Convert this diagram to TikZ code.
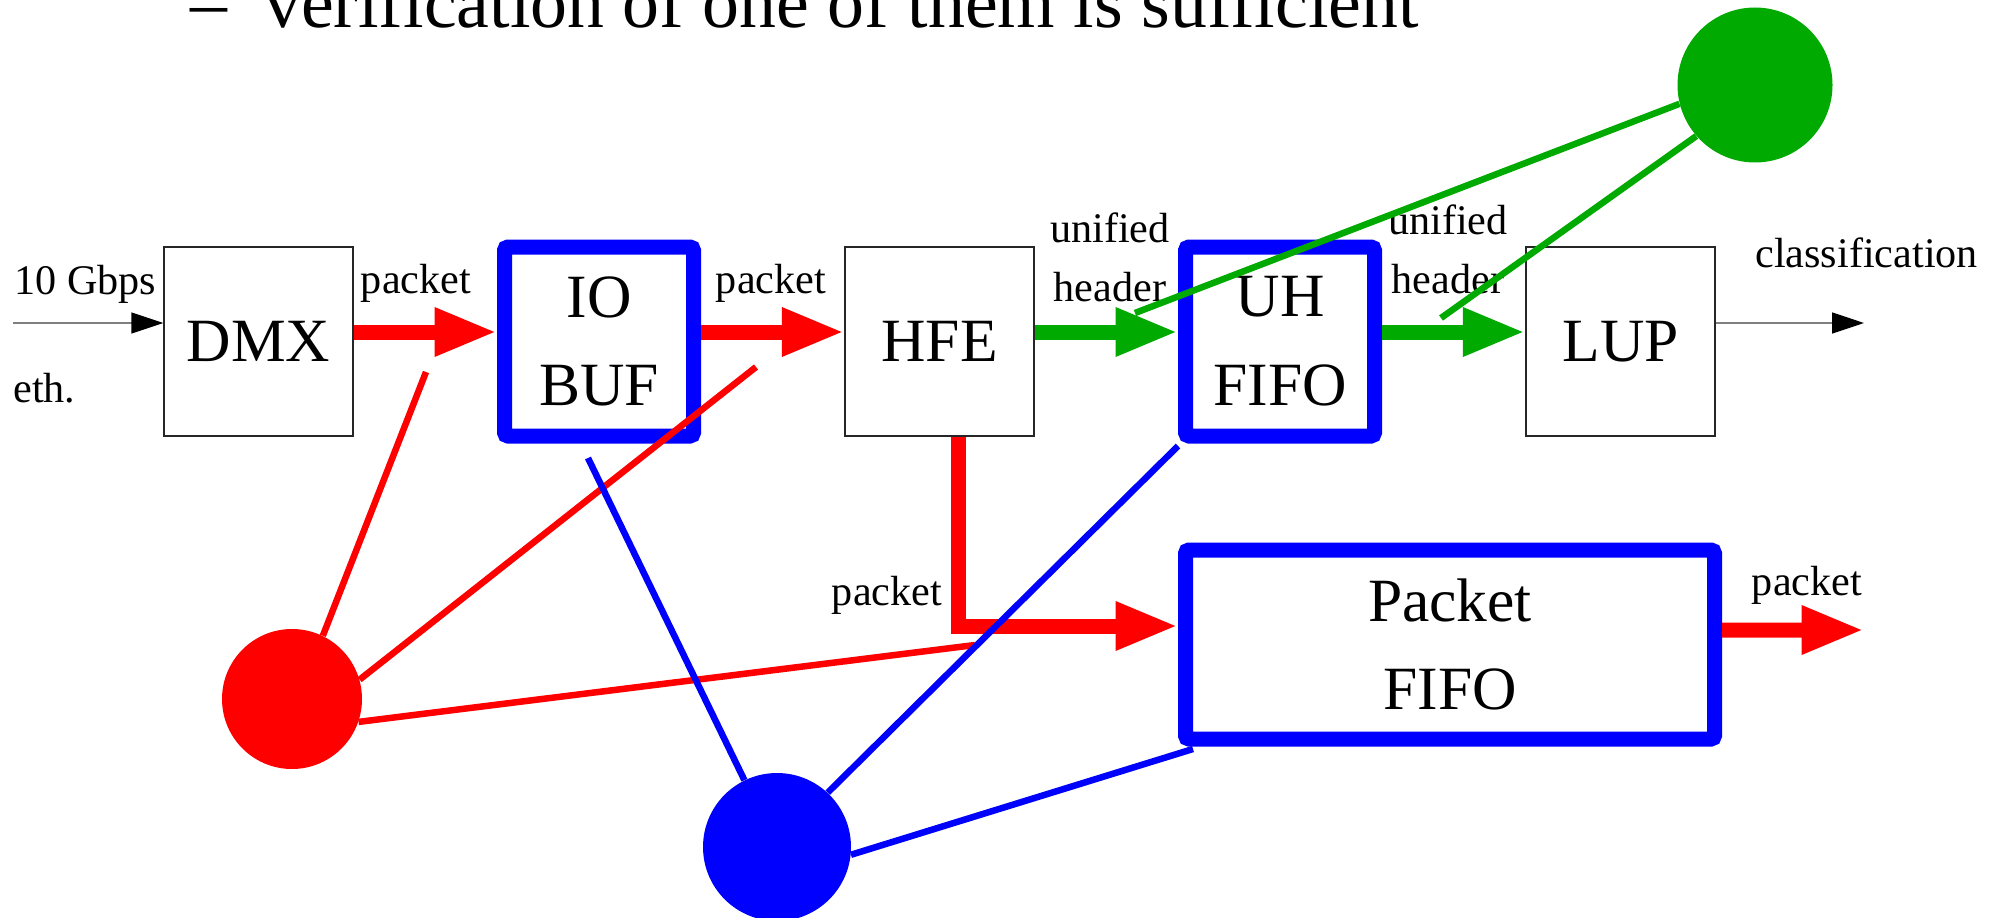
\documentclass[tikz,border=0pt]{standalone}
\usepackage{fontspec}
\setmainfont{Liberation Serif}
\usepackage{tikz}
\usetikzlibrary{arrows.meta, positioning}
\definecolor{PureRed}{HTML}{FF0000}
\definecolor{LeafGreen}{HTML}{00AA00}
\definecolor{PureBlue}{HTML}{0000FF}
\definecolor{MidGray}{HTML}{808080}

\begin{document}
\begin{tikzpicture}[node distance=6.81cm, on grid,
        box/.style={draw=black!85, line width=0.8pt, minimum width=3.78cm, minimum height=3.78cm,
                    inner sep=0pt, align=center, font=\fontsize{35}{50.5}\selectfont},
        bluebox/.style={box, draw=PureBlue, line width=0.3cm, rounded corners=2pt},
        lbl/.style={inner sep=0pt, font=\fontsize{24}{33.5}\selectfont},
        dot/.style={circle, inner sep=0pt},
        thinarrow/.style={draw=MidGray, line width=0.9pt, -{Triangle[length=0.64cm, width=0.42cm, color=black]}},
        fatarrow/.style={line width=0.3cm, -{Triangle[length=1.25cm, width=0.9cm]}},
        wire/.style={line width=0.13cm}]
        \useasboundingbox (0,0) rectangle (39.92,-18.36);

        \node[inner sep=0pt, anchor=base west, font=\fontsize{42}{50}\selectfont] (title) at (3.80,-0.56)
            {\textendash\enspace verification of one of them is sufficient};

        % main pipeline
        \node[box] (dmx) at (5.17,-6.83) {DMX};
        \node[bluebox, right=of dmx] (iobuf) {IO\\BUF};
        \node[box, right=of iobuf] (hfe) {HFE};
        \node[bluebox, right=of hfe] (uhfifo) {UH\\FIFO};
        \node[box, right=of uhfifo] (lup) {LUP};
        \node[bluebox, minimum width=10.58cm, below right=6.06cm and 3.40cm of uhfifo] (pfifo) {Packet\\FIFO};

        \coordinate (inp)  at (0.26,-6.46);
        \coordinate (outp) at (37.28,-6.46);
        \coordinate (pout) at (37.28,-12.60);

        \draw[thinarrow] (inp) -- ([yshift=0.37cm]dmx.west);
        \draw[thinarrow] ([yshift=0.37cm]lup.east) -- (outp);
        \draw[fatarrow, PureRed]   ([yshift=0.19cm]dmx.east) -- ([yshift=0.19cm]iobuf.west);
        \draw[fatarrow, PureRed]   ([yshift=0.19cm]iobuf.east) -- ([yshift=0.19cm]hfe.west);
        \draw[fatarrow, LeafGreen] ([yshift=0.19cm]hfe.east) -- ([yshift=0.19cm]uhfifo.west);
        \draw[fatarrow, LeafGreen] ([yshift=0.19cm]uhfifo.east) -- ([yshift=0.19cm]lup.west);
        \draw[fatarrow, PureRed]   ([xshift=0.38cm]hfe.south) |- ([yshift=0.37cm]pfifo.west);
        \draw[fatarrow, PureRed]   ([yshift=0.29cm]pfifo.east) -- (pout);

        \node[lbl, anchor=base west] (tengb) at (0.28,-5.88) {10 Gbps};
        \node[lbl, anchor=base west] (eth) at (0.26,-8.04) {eth.};
        \node[lbl, anchor=base] (pkta) at (8.32,-5.86) {packet};
        \node[lbl, anchor=base] (pktb) at (15.42,-5.86) {packet};
        \node[lbl, anchor=base, align=center] (unia) at (22.20,-6.02) {unified\\header};
        \node[lbl, anchor=base, align=center] (unib) at (28.96,-5.86) {unified\\header};
        \node[lbl, anchor=base west] (cls) at (35.10,-5.34) {classification};
        \node[lbl, anchor=base] (pktc) at (17.74,-12.10) {packet};
        \node[lbl, anchor=base] (pktd) at (36.14,-11.90) {packet};

        % verification links
        \node[dot, minimum size=3.10cm] (greenc) at (35.10,-1.70) {};
        \node[dot, minimum size=2.80cm] (redc) at (5.84,-13.98) {};
        \node[dot, minimum size=2.96cm] (bluec) at (15.54,-16.94) {};

        \coordinate (ra) at (8.52,-7.44);
        \coordinate (rb) at (15.12,-7.34);
        \coordinate (rc) at (19.50,-12.90);
        \coordinate (ba) at (11.76,-9.16);
        \coordinate (bb) at (23.56,-8.92);
        \coordinate (bc) at (23.86,-14.98);
        \coordinate (ga) at (22.70,-6.26);
        \coordinate (gb) at (28.82,-6.36);

        \draw[wire, PureRed] (redc.64) -- (ra);
        \draw[wire, PureRed] (redc.16) -- (rb);
        \draw[wire, PureRed] (redc.-19) -- (rc);
        \draw[wire, LeafGreen] (greenc.194) -- (ga);
        \draw[wire, LeafGreen] (greenc.221) -- (gb);
        \draw[wire, PureBlue] (bluec.116) -- (ba);
        \draw[wire, PureBlue] (bluec.47) -- (bb);
        \draw[wire, PureBlue] (bluec.-6) -- (bc);

        \fill[LeafGreen] (greenc) circle (1.55cm);
        \fill[PureRed] (redc) circle (1.40cm);
        \fill[PureBlue] (bluec) circle (1.48cm);
      \end{tikzpicture}
\end{document}
